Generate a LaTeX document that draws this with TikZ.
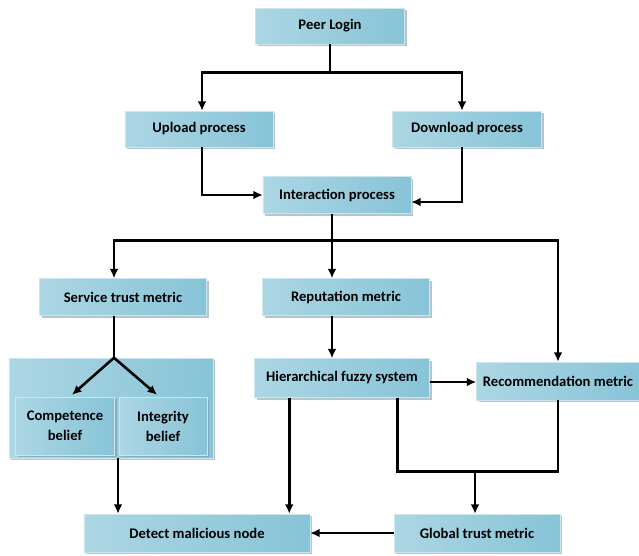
\documentclass[tikz,border=0pt]{standalone}
\usepackage{fontspec}
\setmainfont{Carlito}
\usepackage{tikz}
\usetikzlibrary{shapes,arrows,arrows.meta,positioning,calc,shadows}
\usepackage{xcolor}
\definecolor{boxleft}{RGB}{172,214,228}
\definecolor{boxmid}{RGB}{230,243,247}
\definecolor{boxright}{RGB}{135,196,215}
\definecolor{boxedge}{RGB}{205,230,238}
\definecolor{boxshadow}{RGB}{120,150,165}
\tikzset{
    step box/.style={rectangle, draw=boxedge, thin, left color=boxleft, middle color=boxmid, right color=boxright,
        drop shadow={shadow xshift=0.07cm, shadow yshift=-0.07cm, fill=boxshadow, opacity=0.55},
        font=\bfseries\fontsize{12.5}{14}\selectfont, text=black, align=center, inner sep=2pt},
    link/.style={line width=2.2pt, black},
    arr/.style={link, -{Latex[length=2.8mm,width=2.6mm]}},
}

\begin{document}
\begin{tikzpicture}[x=0.03cm, y=-0.03cm]
    \useasboundingbox (0,0) rectangle (639,555);
    % Top part
    \node[step box, minimum width=4.47cm, minimum height=1.08cm] (login) at (330,26) {Peer Login};
    \node[step box, minimum width=4.44cm, minimum height=1.08cm] (upload) at (199,129) {Upload process};
    \node[step box, minimum width=4.47cm, minimum height=1.08cm] (download) at (467,129) {Download process};
    \node[step box, minimum width=4.44cm, minimum height=1.11cm] (inter) at (337,195) {Interaction process};
    % Metrics
    \node[step box, minimum width=5.01cm, minimum height=1.11cm] (service) at (123,297) {Service trust metric};
    \node[step box, minimum width=5.01cm, minimum height=1.11cm] (reput) at (346,297) {Reputation metric};
    \node[step box, minimum width=5.25cm, minimum height=1.17cm] (fuzzy) at (342,378) {Hierarchical fuzzy system};
    \node[step box, minimum width=4.89cm, minimum height=1.14cm] (recomm) at (558,381) {Recommendation metric};
    % Belief group
    \node[step box, minimum width=6.12cm, minimum height=3.0cm] (group) at (111,408) {};
    \node[step box, minimum width=2.97cm, minimum height=1.74cm] (compet) at (65,426) {Competence\\[3pt]belief};
    \node[step box, minimum width=2.64cm, minimum height=1.74cm] (integ) at (163,426) {Integrity\\[3pt]belief};
    % Bottom
    \node[step box, minimum width=6.78cm, minimum height=1.14cm] (detect) at (197,533) {Detect malicious node};
    \node[step box, minimum width=4.98cm, minimum height=1.14cm] (global) at (477,533) {Global trust metric};

    % Login to upload / download
    \coordinate (s1) at ($(login.south)+(0,28)$);
    \draw[link] (login) -- (s1);
    \draw[arr] (s1) -| ($(upload.north)+(3,0)$);
    \draw[arr] (s1) -| ($(download.north)+(-5,0)$);
    \draw[arr] ($(upload.south)+(3,0)$) |- (inter.west);
    \draw[arr] ($(download.south)+(-5,0)$) |- ($(inter.east)+(0,7)$);
    % Interaction to metrics
    \coordinate (s2top) at ($(inter.south)+(-5,0)$);
    \coordinate (s2) at ($(inter.south)+(-5,27)$);
    \draw[link] (s2top) -- (s2);
    \draw[arr] (s2) -| ($(service.north)+(-9,0)$);
    \draw[arr] (s2) -- (s2 |- reput.north);
    \draw[arr] (s2) -| (recomm.north);
    % Service trust to beliefs
    \coordinate (s3) at ($(group.north)+(3,0)$);
    \draw[link] ($(service.south)+(-9,0)$) -- (s3);
    \draw[arr] (s3) -- ($(compet.north)+(7,-2)$);
    \draw[arr] (s3) -- ($(integ.north)+(-6,-2)$);
    % Reputation chain
    \draw[arr] (s2 |- reput.south) -- (s2 |- fuzzy.north);
    \draw[arr] ($(fuzzy.east)+(0,4)$) -- ($(fuzzy.east -| recomm.west)+(0,4)$);
    % To global trust
    \coordinate (s4) at ($(global.north)+(-2,-42)$);
    \draw[link] ($(fuzzy.south east)+(-32,0)$) |- (recomm.south |- s4) -- (recomm.south);
    \draw[arr] (s4) -- ($(global.north)+(-2,0)$);
    % To detect node
    \coordinate (g1) at ($(group.south)+(7,0)$);
    \coordinate (f1) at ($(fuzzy.south west)+(35,0)$);
    \draw[arr] (g1) -- (g1 |- detect.north);
    \draw[arr] (f1) -- (f1 |- detect.north);
    \draw[arr] (global) -- (detect);
\end{tikzpicture}
\end{document}
